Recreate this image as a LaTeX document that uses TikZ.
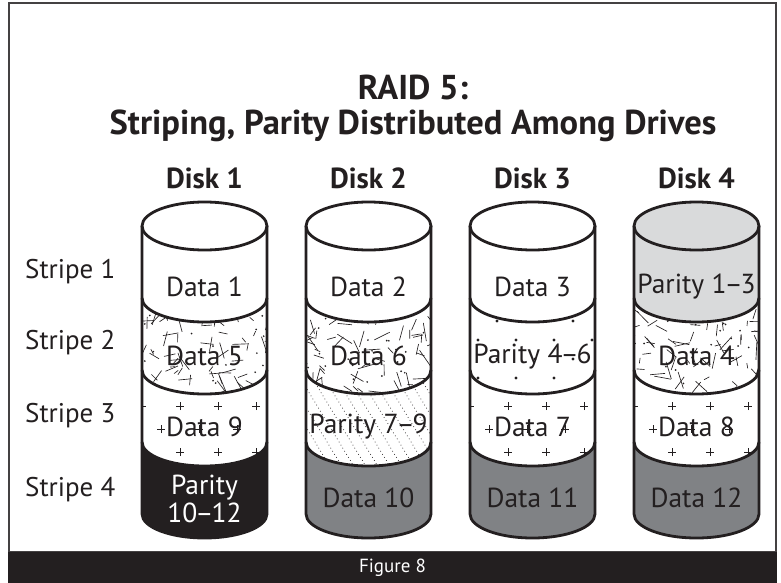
\documentclass[tikz,border=0pt]{standalone}
\usepackage{fontspec}
\setmainfont{PT Sans}
\definecolor{ink}{HTML}{231F20}
\definecolor{midgray}{HTML}{808285}
\definecolor{lightgray}{HTML}{D9DADB}
\newcommand\ndash{\kern-2pt--\kern-2pt}
% top band region (top face + first stripe)
\newcommand\topbandpath[1]{({#1-62.5},-226) arc[start angle=180,end angle=0,x radius=62.5pt,y radius=24pt] -- ({#1+62.5},-298) arc[start angle=0,end angle=-180,x radius=62.5pt,y radius=24pt] -- cycle}
% band between lower arcs at ya and yb
\newcommand\bandpath[3]{({#1-62.5},#2) arc[start angle=180,end angle=360,x radius=62.5pt,y radius=24pt] -- ({#1+62.5},#3) arc[start angle=0,end angle=-180,x radius=62.5pt,y radius=24pt] -- cycle}
% random line texture
\newcommand\randtex[3]{%
  \pgfmathsetseed{#3}%
  \foreach \kk in {1,...,85}{%
    \pgfmathsetmacro\px{#1-68+136*rnd}%
    \pgfmathsetmacro\py{#2+4-104*rnd}%
    \pgfmathsetmacro\an{360*rnd}%
    \pgfmathsetmacro\ln{5+14*rnd}%
    \draw[ink,line width=0.65pt] (\px,\py) -- ++(\an:\ln);
  }%
  \foreach \kk in {1,...,30}{%
    \pgfmathsetmacro\px{#1-68+136*rnd}%
    \pgfmathsetmacro\py{#2+4-104*rnd}%
    \fill[ink] (\px,\py) circle[radius=0.95pt];
  }%
}
% plus texture
\newcommand\plustex[2]{%
  \foreach \rr in {0,...,5}{%
    \pgfmathsetmacro\yy{#2-13-23*\rr}%
    \pgfmathsetmacro\off{ifthenelse(mod(\rr,2)==0,-43.5,-24.5)}%
    \foreach \cc in {-1,0,...,3}{%
      \draw[ink,line width=0.55pt] ({#1+\off+38*\cc-4},\yy) -- ++(8,0) ({#1+\off+38*\cc},{\yy-4}) -- ++(0,8);
    }%
  }%
}
% dot texture
\newcommand\dottex[2]{%
  \foreach \rr in {0,...,6}{%
    \pgfmathsetmacro\yy{#2-4-19*\rr}%
    \pgfmathsetmacro\off{ifthenelse(mod(\rr,2)==0,-54.5,-35.5)}%
    \foreach \cc in {-1,0,...,3}{%
      \fill[ink] ({#1+\off+38*\cc},\yy) circle[radius=1.6pt];
    }%
  }%
}
% diagonal dotted texture
\newcommand\diagtex[2]{%
  \foreach \ss in {-110,-98,...,150}{%
    \draw[ink,line width=1pt,line cap=round,dash pattern=on 0pt off 3.6pt] ({#1+\ss-40},{#2+8}) -- ++(68,-112);
  }%
}
% cylinder outline
\newcommand\cylout[1]{%
  \draw[outline] (#1,-226) ellipse[x radius=62.5pt,y radius=24pt];
  \foreach \yy in {-298,-370,-442}{%
    \draw[outline] ({#1-62.5},\yy) arc[start angle=180,end angle=360,x radius=62.5pt,y radius=24pt];
  }%
  \draw[outline] ({#1-62.5},-226) -- ({#1-62.5},-514) arc[start angle=180,end angle=360,x radius=62.5pt,y radius=24pt] -- ({#1+62.5},-226);
}
\begin{document}
\begin{tikzpicture}[x=1pt,y=1pt,
  outline/.style={draw=ink,line width=2.8pt,line join=round},
  lbl/.style={font=\fontsize{27.5}{30}\selectfont,text=ink,inner sep=0pt},
  disklbl/.style={font=\bfseries\fontsize{29}{32}\selectfont,text=ink,inner sep=0pt},
  titlelbl/.style={font=\bfseries\fontsize{34.5}{40}\selectfont,text=ink,inner sep=0pt},
  stripelbl/.style={font=\fontsize{27}{30}\selectfont,text=ink,inner sep=0pt,anchor=west}]
\useasboundingbox (0,0) rectangle (781,-583);
\fill[white] (0,0) rectangle (781,-583);
% frame and bottom bar
\draw[ink!85,line width=1.4pt] (9,-3) rectangle (776,-552);
\fill[ink] (8.3,-552) rectangle (776.7,-583);
\node[font=\fontsize{19}{20}\selectfont,text=white] (fig) at (392.5,-567.5) {Figure 8};
% title
\node[titlelbl] (title1) at (413,-87) {RAID 5:};
\node[titlelbl] (title2) at (413,-126) {Striping, Parity Distributed Among Drives};
% disk labels
\node[disklbl] (d1) at (204.5,-178) {Disk 1};
\node[disklbl] (d2) at (368.5,-178) {Disk 2};
\node[disklbl] (d3) at (532.5,-178) {Disk 3};
\node[disklbl] (d4) at (696.5,-178) {Disk 4};
% stripe labels
\node[stripelbl] (s1) at (25,-272) {Stripe 1};
\node[stripelbl] (s2) at (25,-343) {Stripe 2};
\node[stripelbl] (s3) at (25,-416) {Stripe 3};
\node[stripelbl] (s4) at (25,-490) {Stripe 4};

% ---------- Disk 1 ----------
\fill[white] \topbandpath{204.5};
\begin{scope}\clip \bandpath{204.5}{-298}{-370}; \fill[white] (100,-280) rectangle (300,-400); \randtex{204.5}{-298}{11} \end{scope}
\begin{scope}\clip \bandpath{204.5}{-370}{-442}; \fill[white] (100,-350) rectangle (300,-470); \plustex{204.5}{-370} \end{scope}
\fill[ink] \bandpath{204.5}{-442}{-514};
\cylout{204.5}
% ---------- Disk 2 ----------
\fill[white] \topbandpath{368.5};
\begin{scope}\clip \bandpath{368.5}{-298}{-370}; \fill[white] (260,-280) rectangle (470,-400); \randtex{368.5}{-298}{23} \end{scope}
\begin{scope}\clip \bandpath{368.5}{-370}{-442}; \fill[white] (260,-350) rectangle (470,-470); \diagtex{368.5}{-370} \end{scope}
\fill[midgray] \bandpath{368.5}{-442}{-514};
\cylout{368.5}
% ---------- Disk 3 ----------
\fill[white] \topbandpath{532.5};
\begin{scope}\clip \bandpath{532.5}{-298}{-370}; \fill[white] (420,-280) rectangle (640,-400); \dottex{532.5}{-298} \end{scope}
\begin{scope}\clip \bandpath{532.5}{-370}{-442}; \fill[white] (420,-350) rectangle (640,-470); \plustex{532.5}{-370} \end{scope}
\fill[midgray] \bandpath{532.5}{-442}{-514};
\cylout{532.5}
% ---------- Disk 4 ----------
\fill[lightgray] \topbandpath{696.5};
\begin{scope}\clip \bandpath{696.5}{-298}{-370}; \fill[white] (580,-280) rectangle (800,-400); \randtex{696.5}{-298}{37} \end{scope}
\begin{scope}\clip \bandpath{696.5}{-370}{-442}; \fill[white] (580,-350) rectangle (800,-470); \plustex{696.5}{-370} \end{scope}
\fill[midgray] \bandpath{696.5}{-442}{-514};
\cylout{696.5}

% band texts
\node[lbl] (t11) at (204.5,-287) {Data 1};
\node[lbl] (t12) at (204.5,-356) {Data 5};
\node[lbl] (t13) at (204.5,-427) {Data 9};
\node[lbl,text=white,align=center,font=\fontsize{27.5}{28}\selectfont] (t14) at (204.5,-499) {Parity\\10\ndash 12};
\node[lbl] (t21) at (368.5,-287) {Data 2};
\node[lbl] (t22) at (368.5,-356) {Data 6};
\node[lbl] (t23) at (368.5,-427) {Parity 7\ndash 9};
\node[lbl] (t24) at (368.5,-498) {Data 10};
\node[lbl] (t31) at (532.5,-287) {Data 3};
\node[lbl] (t32) at (532.5,-357) {Parity 4\ndash 6};
\node[lbl] (t33) at (532.5,-427) {Data 7};
\node[lbl] (t34) at (532.5,-498) {Data 11};
\node[lbl] (t41) at (696.5,-287) {Parity 1\ndash 3};
\node[lbl] (t42) at (696.5,-356) {Data 4};
\node[lbl] (t43) at (696.5,-427) {Data 8};
\node[lbl] (t44) at (696.5,-498) {Data 12};
\end{tikzpicture}
\end{document}
